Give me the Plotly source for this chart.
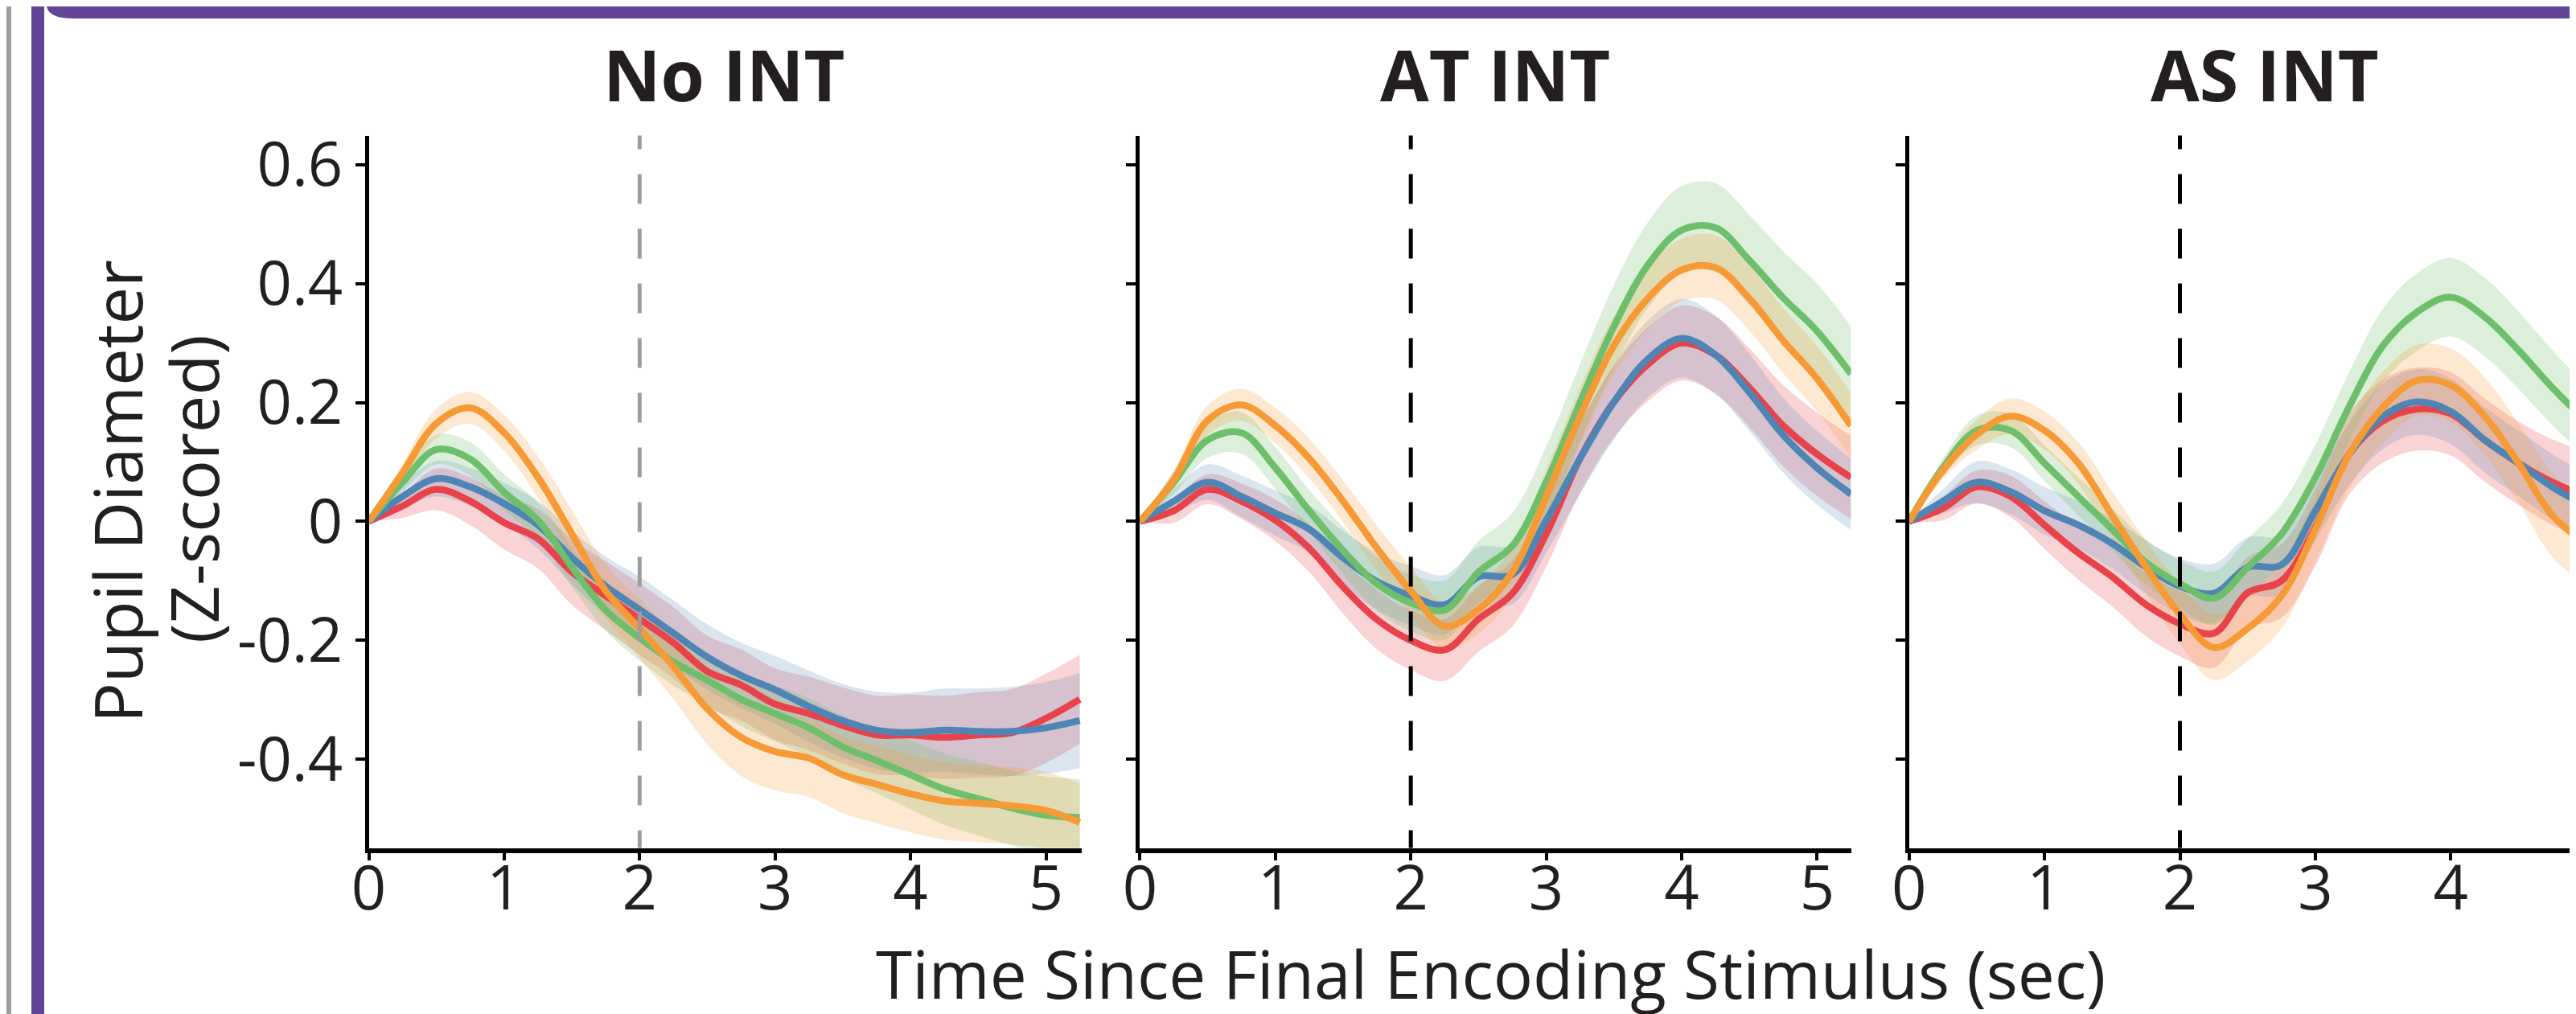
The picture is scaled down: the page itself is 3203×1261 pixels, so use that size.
import numpy as np
import plotly.graph_objects as go

W, H = 3203, 1261

# ---------------- data ----------------
TIME = [0, 0.25, 0.5, 0.75, 1.0, 1.25, 1.5, 1.75, 2.0, 2.25, 2.5, 2.75,
        3.0, 3.25, 3.5, 3.75, 4.0, 4.25, 4.5, 4.75, 5.0, 5.25]
EVENT_TIME = 2.0
PANEL_TITLES = ["No INT", "AT INT", "AS INT"]
X_TICKS = [0, 1, 2, 3, 4, 5]
Y_TICKS = [-0.4, -0.2, 0, 0.2, 0.4, 0.6]
Y_TICK_TEXT = ["-0.4", "-0.2", "0", "0.2", "0.4", "0.6"]
X_TITLE = "Time Since Final Encoding Stimulus (sec)"
Y_TITLE_1 = "Pupil Diameter"
Y_TITLE_2 = "(Z-scored)"

# No INT
NO_RED = [0, 0.026, 0.054, 0.034, -0.002, -0.029, -0.085, -0.125, -0.164, -0.204, -0.252, -0.275,
          -0.307, -0.323, -0.343, -0.359, -0.359, -0.363, -0.359, -0.355, -0.331, -0.299]
NO_BLUE = [0, 0.042, 0.072, 0.058, 0.030, -0.006, -0.061, -0.109, -0.148, -0.188, -0.228, -0.259,
           -0.283, -0.311, -0.335, -0.351, -0.355, -0.351, -0.353, -0.353, -0.347, -0.335]
NO_GREEN = [0, 0.066, 0.121, 0.105, 0.049, 0.002, -0.077, -0.149, -0.196, -0.236, -0.267, -0.299,
            -0.323, -0.347, -0.379, -0.402, -0.426, -0.450, -0.466, -0.482, -0.494, -0.498]
NO_ORANGE = [0, 0.082, 0.165, 0.191, 0.149, 0.074, -0.021, -0.117, -0.180, -0.244, -0.315, -0.363,
             -0.387, -0.398, -0.426, -0.442, -0.458, -0.470, -0.474, -0.478, -0.486, -0.506]
NO_RED_SEM = [0, 0.02, 0.035, 0.04, 0.045, 0.05, 0.055, 0.058, 0.06, 0.06, 0.06, 0.06,
              0.06, 0.062, 0.064, 0.066, 0.068, 0.07, 0.072, 0.073, 0.075, 0.075]
NO_BLUE_SEM = [0, 0.02, 0.03, 0.032, 0.035, 0.04, 0.045, 0.05, 0.055, 0.055, 0.055, 0.055,
               0.057, 0.06, 0.062, 0.065, 0.067, 0.07, 0.072, 0.075, 0.077, 0.08]
NO_GREEN_SEM = [0, 0.015, 0.025, 0.028, 0.03, 0.03, 0.033, 0.035, 0.038, 0.04, 0.042, 0.045,
                0.047, 0.05, 0.052, 0.055, 0.058, 0.06, 0.062, 0.063, 0.065, 0.065]
NO_ORANGE_SEM = [0, 0.015, 0.025, 0.027, 0.03, 0.035, 0.04, 0.045, 0.05, 0.055, 0.06, 0.065,
                 0.065, 0.065, 0.065, 0.065, 0.065, 0.065, 0.065, 0.065, 0.065, 0.065]

# AT INT
AT_RED = [0, 0.018, 0.054, 0.034, 0.002, -0.045, -0.110, -0.165, -0.200, -0.216, -0.164, -0.121,
          -0.021, 0.106, 0.201, 0.264, 0.300, 0.280, 0.225, 0.161, 0.113, 0.074]
AT_BLUE = [0, 0.034, 0.066, 0.042, 0.014, -0.013, -0.061, -0.101, -0.125, -0.140, -0.093, -0.089,
           0.002, 0.106, 0.201, 0.273, 0.308, 0.280, 0.217, 0.145, 0.090, 0.046]
AT_GREEN = [0, 0.066, 0.137, 0.149, 0.090, 0.018, -0.049, -0.105, -0.137, -0.149, -0.085, -0.041,
            0.066, 0.200, 0.328, 0.431, 0.490, 0.494, 0.439, 0.376, 0.320, 0.248]
AT_ORANGE = [0, 0.070, 0.170, 0.196, 0.161, 0.106, 0.034, -0.045, -0.117, -0.176, -0.148, -0.085,
             0.042, 0.177, 0.296, 0.375, 0.423, 0.427, 0.375, 0.304, 0.240, 0.161]
AT_RED_SEM = [0, 0.02, 0.025, 0.03, 0.035, 0.04, 0.045, 0.05, 0.05, 0.052, 0.055, 0.055,
              0.055, 0.058, 0.06, 0.062, 0.063, 0.065, 0.066, 0.068, 0.07, 0.07]
AT_BLUE_SEM = [0, 0.02, 0.03, 0.035, 0.038, 0.04, 0.045, 0.048, 0.05, 0.05, 0.05, 0.05,
               0.055, 0.06, 0.063, 0.065, 0.066, 0.066, 0.065, 0.063, 0.062, 0.06]
AT_GREEN_SEM = [0, 0.02, 0.03, 0.035, 0.035, 0.035, 0.04, 0.045, 0.048, 0.05, 0.052, 0.055,
                0.06, 0.065, 0.07, 0.072, 0.074, 0.075, 0.076, 0.078, 0.08, 0.08]
AT_ORANGE_SEM = [0, 0.015, 0.025, 0.027, 0.03, 0.033, 0.035, 0.038, 0.04, 0.04, 0.04, 0.042,
                 0.045, 0.048, 0.05, 0.052, 0.053, 0.054, 0.055, 0.055, 0.055, 0.055]

# AS INT
AS_RED = [0, 0.022, 0.058, 0.042, -0.006, -0.053, -0.093, -0.140, -0.172, -0.188, -0.120, -0.100,
          -0.010, 0.113, 0.169, 0.189, 0.181, 0.137, 0.098, 0.066, 0.042, 0.020]
AS_BLUE = [0, 0.034, 0.066, 0.050, 0.018, -0.006, -0.037, -0.077, -0.109, -0.121, -0.077, -0.073,
           0.018, 0.113, 0.177, 0.201, 0.185, 0.137, 0.098, 0.058, 0.026, 0.000]
AS_GREEN = [0, 0.090, 0.153, 0.153, 0.098, 0.042, -0.013, -0.069, -0.105, -0.129, -0.077, -0.021,
            0.074, 0.193, 0.296, 0.352, 0.377, 0.344, 0.288, 0.225, 0.169, 0.120]
AS_ORANGE = [0, 0.086, 0.146, 0.177, 0.153, 0.098, 0.010, -0.077, -0.156, -0.212, -0.180, -0.125,
             -0.013, 0.113, 0.192, 0.237, 0.229, 0.177, 0.098, 0.010, -0.040, -0.100]
AS_RED_SEM = [0, 0.02, 0.028, 0.035, 0.04, 0.045, 0.05, 0.053, 0.055, 0.058, 0.06, 0.062,
              0.065, 0.068, 0.07, 0.07, 0.07, 0.07, 0.07, 0.072, 0.075, 0.075]
AS_BLUE_SEM = [0, 0.02, 0.035, 0.038, 0.04, 0.04, 0.042, 0.045, 0.047, 0.05, 0.05, 0.05,
               0.05, 0.052, 0.055, 0.055, 0.055, 0.055, 0.055, 0.055, 0.055, 0.055]
AS_GREEN_SEM = [0, 0.015, 0.025, 0.028, 0.03, 0.032, 0.035, 0.038, 0.04, 0.045, 0.048, 0.05,
                0.055, 0.058, 0.062, 0.065, 0.066, 0.066, 0.065, 0.063, 0.06, 0.06]
AS_ORANGE_SEM = [0, 0.015, 0.025, 0.03, 0.032, 0.035, 0.04, 0.045, 0.05, 0.055, 0.055, 0.055,
                 0.055, 0.057, 0.06, 0.06, 0.062, 0.065, 0.067, 0.07, 0.07, 0.07]

PANEL_DATA = [
    {"red": (NO_RED, NO_RED_SEM), "blue": (NO_BLUE, NO_BLUE_SEM),
     "green": (NO_GREEN, NO_GREEN_SEM), "orange": (NO_ORANGE, NO_ORANGE_SEM)},
    {"red": (AT_RED, AT_RED_SEM), "blue": (AT_BLUE, AT_BLUE_SEM),
     "green": (AT_GREEN, AT_GREEN_SEM), "orange": (AT_ORANGE, AT_ORANGE_SEM)},
    {"red": (AS_RED, AS_RED_SEM), "blue": (AS_BLUE, AS_BLUE_SEM),
     "green": (AS_GREEN, AS_GREEN_SEM), "orange": (AS_ORANGE, AS_ORANGE_SEM)},
]
SERIES_ORDER = ["red", "blue", "green", "orange"]

# ---------------- styles ----------------
LINE_COLORS = {"red": "#e8434b", "blue": "#4f85b4", "green": "#6ebf6b", "orange": "#f69a36"}
BAND_COLORS = {"red": "rgba(233,71,79,0.24)", "blue": "rgba(80,134,180,0.21)",
               "green": "rgba(111,191,108,0.25)", "orange": "rgba(246,155,57,0.23)"}
TEXT = "#231f20"
FONT = "Open Sans"
PURPLE = "#624597"

# pixel layout
PX_PER_SEC = 168.4
Y_RANGE = [-0.549, 0.649]
X0_PX = [450.5, 1409.4, 2365.7]
X_MAX = [5.264, 5.25, (W - 2365.7) / PX_PER_SEC]
TOP_PX, BOT_PX = 160.5, 1046.5


def px(xp):
    return xp / W


def py(yp):
    return 1 - yp / H


fig = go.Figure()
t = np.array(TIME)

for i, pdata in enumerate(PANEL_DATA):
    xa = "x" if i == 0 else f"x{i+1}"
    ya = "y" if i == 0 else f"y{i+1}"
    # bands
    for s in SERIES_ORDER:
        m, e = np.array(pdata[s][0]), np.array(pdata[s][1])
        fig.add_trace(go.Scatter(x=t, y=m + e, mode="lines", line=dict(width=0, shape="spline"),
                                 xaxis=xa, yaxis=ya, showlegend=False, hoverinfo="skip"))
        fig.add_trace(go.Scatter(x=t, y=m - e, mode="lines", line=dict(width=0, shape="spline"),
                                 fill="tonexty", fillcolor=BAND_COLORS[s],
                                 xaxis=xa, yaxis=ya, showlegend=False, hoverinfo="skip"))
    # mean lines
    for s in SERIES_ORDER:
        fig.add_trace(go.Scatter(x=t, y=pdata[s][0], mode="lines", name=s,
                                 line=dict(color=LINE_COLORS[s], width=8.5, shape="spline"),
                                 xaxis=xa, yaxis=ya, showlegend=False))

axis_common = dict(showgrid=False, zeroline=False, showline=True, linecolor="black",
                   ticks="outside", tickwidth=4, tickcolor="black",
                   automargin=False,
                   tickfont=dict(family=FONT, size=76, color=TEXT))

layout = dict(width=W, height=H, margin=dict(l=0, r=0, t=0, b=0), template="none",
              paper_bgcolor="white", plot_bgcolor="white", showlegend=False)

ydom = [py(BOT_PX), py(TOP_PX)]
for i in range(3):
    sfx = "" if i == 0 else str(i + 1)
    x_end_px = X0_PX[i] + X_MAX[i] * PX_PER_SEC
    layout["xaxis" + sfx] = dict(axis_common, domain=[px(X0_PX[i]), min(1.0, px(x_end_px))],
                                 range=[0, X_MAX[i]], tickvals=X_TICKS,
                                 ticktext=[str(v) for v in X_TICKS],
                                 linewidth=6, ticklen=9, ticklabelstandoff=-30,
                                 anchor="y" + sfx)
    layout["yaxis" + sfx] = dict(axis_common, domain=ydom, range=Y_RANGE, tickvals=Y_TICKS,
                                 ticktext=Y_TICK_TEXT, showticklabels=(i == 0),
                                 linewidth=5, ticklen=12,
                                 anchor="x" + sfx)

fig.update_layout(**layout)

# dashed event lines
dash_pattern = "17px,31px," + "37px,31px," * 13
dash_pattern = dash_pattern.rstrip(",")
for i in range(3):
    sfx = "" if i == 0 else str(i + 1)
    fig.add_shape(type="line", xref="x" + sfx, yref=("y" + sfx) + " domain",
                  x0=EVENT_TIME, x1=EVENT_TIME, y0=1, y1=0, layer="above",
                  line=dict(color="#9d9d9d" if i == 0 else "black", width=5, dash=dash_pattern))

# panel titles
for i, title in enumerate(PANEL_TITLES):
    cx = X0_PX[i] + 5.25 * PX_PER_SEC / 2
    fig.add_annotation(text=f"<b>{title}</b>", x=px(cx), y=py(84), xref="paper", yref="paper",
                       xanchor="center", yanchor="middle", showarrow=False,
                       font=dict(family=FONT, size=88, color=TEXT))

# axis titles
fig.add_annotation(text=X_TITLE, x=px(1845), y=py(1202), xref="paper", yref="paper",
                   xanchor="center", yanchor="middle", showarrow=False,
                   font=dict(family=FONT, size=82, color=TEXT))
fig.add_annotation(text=Y_TITLE_1, x=px(136), y=py(603), xref="paper", yref="paper",
                   xanchor="center", yanchor="middle", showarrow=False, textangle=-90,
                   font=dict(family=FONT, size=83, color=TEXT))
fig.add_annotation(text=Y_TITLE_2, x=px(231), y=py(600), xref="paper", yref="paper",
                   xanchor="center", yanchor="middle", showarrow=False, textangle=-90,
                   font=dict(family=FONT, size=83, color=TEXT))

# frame decorations
fig.add_shape(type="rect", xref="paper", yref="paper", x0=0, x1=px(6), y0=0, y1=1,
              fillcolor="#9e9e9e", line_width=0, layer="below")
fig.add_shape(type="rect", xref="paper", yref="paper", x0=px(31), x1=px(47), y0=0, y1=1,
              fillcolor=PURPLE, line_width=0, layer="below")
path = (f"M {px(50)},{py(0)} Q {px(53)},{py(15)} {px(83)},{py(15)} "
        f"L {px(W)},{py(15)} L {px(W)},{py(0)} Z")
fig.add_shape(type="path", xref="paper", yref="paper", path=path,
              fillcolor=PURPLE, line_width=0, layer="below")

fig.write_html("out.html")
